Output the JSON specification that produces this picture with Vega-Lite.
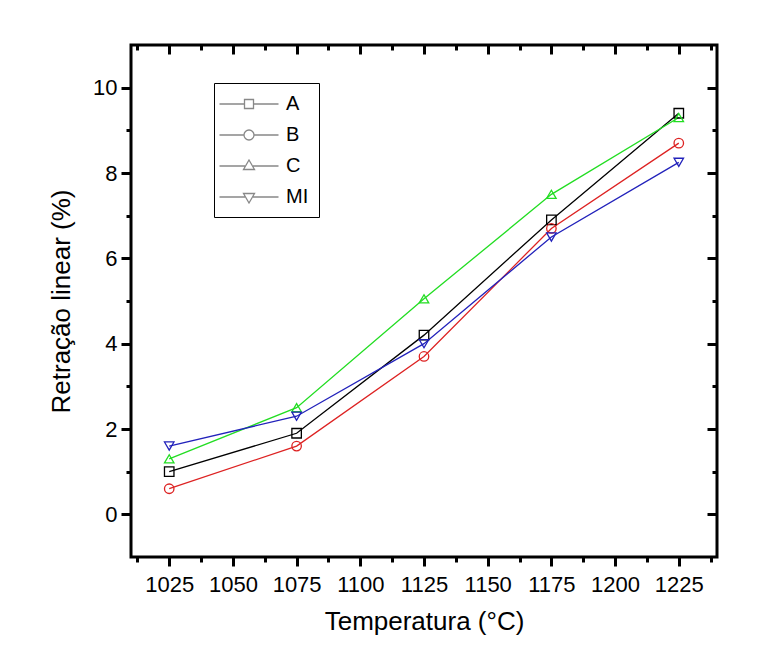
{
  "$schema": "https://vega.github.io/schema/vega-lite/v6.json",
  "autosize": "none",
  "width": 586,
  "height": 512,
  "padding": {"left": 131, "top": 45, "right": 66, "bottom": 92},
  "background": "white",
  "config": {
    "view": {"stroke": "#000000", "strokeWidth": 3},
    "font": "Liberation Sans",
    "axis": {
      "grid": false, "domain": false,
      "tickColor": "#000000", "tickWidth": 3,
      "labelFont": "Liberation Sans", "labelFontSize": 22, "labelColor": "black",
      "titleFont": "Liberation Sans", "titleFontSize": 26, "titleFontWeight": "normal", "titleColor": "black"
    },
    "legend": {
      "labelFont": "Liberation Sans", "labelFontSize": 20, "labelColor": "black"
    }
  },
  "data": {"values": [
    {"temp": 1025, "value": 1.0, "series": "A"},
    {"temp": 1075, "value": 1.9, "series": "A"},
    {"temp": 1125, "value": 4.2, "series": "A"},
    {"temp": 1175, "value": 6.9, "series": "A"},
    {"temp": 1225, "value": 9.4, "series": "A"},
    {"temp": 1025, "value": 0.6, "series": "B"},
    {"temp": 1075, "value": 1.6, "series": "B"},
    {"temp": 1125, "value": 3.7, "series": "B"},
    {"temp": 1175, "value": 6.7, "series": "B"},
    {"temp": 1225, "value": 8.7, "series": "B"},
    {"temp": 1025, "value": 1.3, "series": "C"},
    {"temp": 1075, "value": 2.5, "series": "C"},
    {"temp": 1125, "value": 5.05, "series": "C"},
    {"temp": 1175, "value": 7.5, "series": "C"},
    {"temp": 1225, "value": 9.3, "series": "C"},
    {"temp": 1025, "value": 1.6, "series": "MI"},
    {"temp": 1075, "value": 2.3, "series": "MI"},
    {"temp": 1125, "value": 4.0, "series": "MI"},
    {"temp": 1175, "value": 6.5, "series": "MI"},
    {"temp": 1225, "value": 8.25, "series": "MI"}
  ]},
  "layer": [
    {
      "mark": {"type": "line", "strokeWidth": 1.3},
      "encoding": {
        "x": {"field": "temp", "type": "quantitative",
          "scale": {"domain": [1010, 1240], "nice": false, "zero": false},
          "axis": {"orient": "bottom", "domain": false,
            "values": [1012.5, 1025, 1037.5, 1050, 1062.5, 1075, 1087.5, 1100, 1112.5, 1125, 1137.5, 1150, 1162.5, 1175, 1187.5, 1200, 1212.5, 1225, 1237.5],
            "format": "d",
            "labelExpr": "datum.value % 25 === 0 ? datum.label : ''",
            "tickSize": {"condition": {"test": "datum.value % 25 === 0", "value": 9}, "value": 5},
            "labelPadding": 8, "labelOverlap": false, "labelFlush": false,
            "title": "Temperatura (°C)", "titlePadding": 13}},
        "y": {"field": "value", "type": "quantitative",
          "scale": {"domain": [-1, 11], "nice": false, "zero": false},
          "axis": {"orient": "left", "domain": false,
            "values": [0, 1, 2, 3, 4, 5, 6, 7, 8, 9, 10],
            "labelExpr": "datum.value % 2 === 0 ? datum.label : ''",
            "tickSize": {"condition": {"test": "datum.value % 2 === 0", "value": 10}, "value": 5},
            "labelPadding": 4,
            "title": "Retração linear (%)", "titlePadding": 18}},
        "color": {"field": "series", "type": "nominal",
          "scale": {"domain": ["A", "B", "C", "MI"], "range": ["#000000", "#dd2222", "#22dd22", "#2222bb"]},
          "legend": null}
      }
    },
    {
      "mark": {"type": "point", "filled": false, "size": 90, "strokeWidth": 1.3, "opacity": 1},
      "encoding": {
        "x": {"field": "temp", "type": "quantitative",
          "scale": {"domain": [1010, 1240], "nice": false, "zero": false},
          "axis": {"orient": "top", "labels": false, "title": null, "domain": false,
            "values": [1012.5, 1025, 1037.5, 1050, 1062.5, 1075, 1087.5, 1100, 1112.5, 1125, 1137.5, 1150, 1162.5, 1175, 1187.5, 1200, 1212.5, 1225, 1237.5],
            "tickSize": {"condition": {"test": "datum.value % 25 === 0", "value": -9}, "value": -5}}},
        "y": {"field": "value", "type": "quantitative",
          "scale": {"domain": [-1, 11], "nice": false, "zero": false},
          "axis": {"orient": "right", "labels": false, "title": null, "domain": false,
            "values": [0, 1, 2, 3, 4, 5, 6, 7, 8, 9, 10],
            "tickSize": {"condition": {"test": "datum.value % 2 === 0", "value": -10}, "value": -5}}},
        "shape": {"field": "series", "type": "nominal",
          "scale": {"domain": ["A", "B", "C", "MI"], "range": ["square", "circle", "triangle-up", "triangle-down"]},
          "legend": null},
        "color": {"field": "series", "type": "nominal",
          "scale": {"domain": ["A", "B", "C", "MI"], "range": ["#000000", "#dd2222", "#22dd22", "#2222bb"]},
          "legend": null}
      }
    },
    {
      "mark": {"type": "point", "filled": false, "size": 400, "strokeWidth": 1.3, "opacity": 0},
      "encoding": {
        "x": {"field": "temp", "type": "quantitative",
          "scale": {"domain": [1010, 1240], "nice": false, "zero": false}, "axis": null},
        "y": {"field": "value", "type": "quantitative",
          "scale": {"domain": [-1, 11], "nice": false, "zero": false}, "axis": null},
        "shape": {"field": "series", "type": "nominal",
          "scale": {"domain": ["A", "B", "C", "MI"], "range": [
            "M-2.95,0H-0.45M0.45,0H2.95M-0.45,-0.45H0.45V0.45H-0.45Z",
            "M-2.95,0H-0.5M0.5,0H2.95M-0.5,0A0.5,0.5,0,1,1,0.5,0A0.5,0.5,0,1,1,-0.5,0Z",
            "M-2.95,0H-0.4M0.4,0H2.95M0,-0.6L0.55,0.35L-0.55,0.35Z",
            "M-2.95,0H-0.4M0.4,0H2.95M0,0.6L0.55,-0.35L-0.55,-0.35Z"
          ]},
          "legend": {"orient": "none", "legendX": 83, "legendY": 38, "title": null,
            "strokeColor": "black", "padding": 10, "rowPadding": 10,
            "symbolSize": 400, "symbolOffset": 14, "labelOffset": 26, "symbolStrokeWidth": 1.3,
            "encode": {"symbols": {
              "stroke": {"value": {"expr": "scale('color', datum.value)"}},
              "fill": {"value": "transparent"},
              "opacity": {"value": 1}}}}},
        "color": {"field": "series", "type": "nominal",
          "scale": {"domain": ["A", "B", "C", "MI"], "range": ["#000000", "#dd2222", "#22dd22", "#2222bb"]},
          "legend": null}
      }
    }
  ],
  "resolve": {
    "scale": {"shape": "independent"},
    "axis": {"x": "independent", "y": "independent"}
  }
}
